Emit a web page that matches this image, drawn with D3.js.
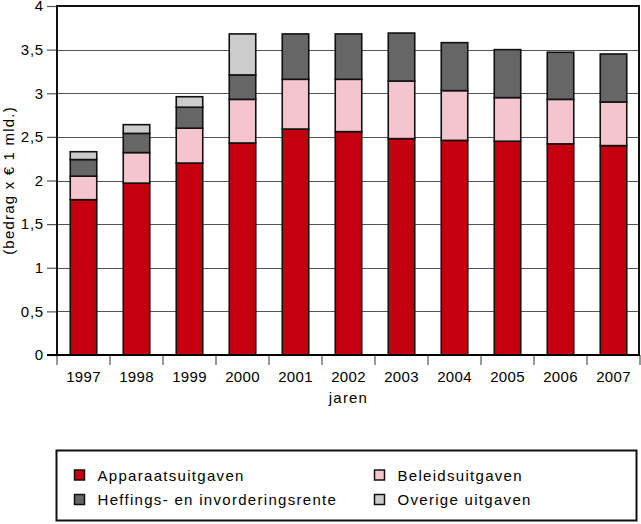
<!DOCTYPE html>
<html><head><meta charset="utf-8">
<script src="https://cdn.jsdelivr.net/npm/d3@7"></script>
<style>body{margin:0;background:#fff}svg{display:block}text{font-family:"Liberation Sans",Arial,sans-serif;fill:#000}</style>
</head><body><svg id="c" width="641" height="524"></svg>
<script>
const years = ["1997","1998","1999","2000","2001","2002","2003","2004","2005","2006","2007"];
const apparaat = [1.78,1.97,2.20,2.43,2.59,2.56,2.48,2.46,2.45,2.42,2.40];
const beleid   = [0.27,0.35,0.40,0.50,0.57,0.60,0.66,0.57,0.50,0.51,0.50];
const heffing  = [0.19,0.22,0.24,0.28,0.52,0.52,0.55,0.55,0.55,0.54,0.55];
const overige  = [0.09,0.10,0.12,0.47,0,0,0,0,0,0,0];
const seriesNames = ["Apparaatsuitgaven","Beleidsuitgaven","Heffings- en invorderingsrente","Overige uitgaven"];
const seriesColors = ["#c4000e","#f4c5cf","#666666","#cccccc"];
const yTicks = [0,0.5,1,1.5,2,2.5,3,3.5,4];

const keys = ["a","b","h","o"];
const table = years.map((y,i)=>({year:y,a:apparaat[i],b:beleid[i],h:heffing[i],o:overige[i]}));
const svg = d3.select("#c");
const L=57,R=640,T=6,B=355;
const x = d3.scaleBand().domain(years).range([L,R]).paddingInner(0.5).paddingOuter(0.25);
const y = d3.scaleLinear().domain([0,4]).range([B,T]);
const color = d3.scaleOrdinal().domain(keys).range(seriesColors);
const fmt = d3.formatLocale({decimal:",",thousands:".",grouping:[3],currency:["€",""]}).format(",~g");

// gridlines
svg.append("g").selectAll("line").data(yTicks.filter(d=>d>0&&d<4)).join("line")
  .attr("x1",L).attr("x2",R).attr("y1",d=>Math.round(y(d))+0.5).attr("y2",d=>Math.round(y(d))+0.5)
  .attr("stroke","#555").attr("stroke-width",1.2);

// y axis
const ya = svg.append("g").attr("transform",`translate(${L},0)`)
  .call(d3.axisLeft(y).tickValues(yTicks).tickFormat(fmt).tickSize(10).tickPadding(3));
ya.select(".domain").remove();
ya.selectAll(".tick line").attr("stroke","#555").attr("stroke-width",1.2);
ya.selectAll(".tick text").style("font-size","15px").style("letter-spacing","0.8px").attr("font-family",null);

// x axis labels
const xa = svg.append("g").attr("transform",`translate(0,${B})`)
  .call(d3.axisBottom(x).tickSize(0).tickPadding(16));
xa.select(".domain").remove();
xa.selectAll(".tick text").style("font-size","15px").style("letter-spacing","0.3px").attr("font-family",null);
// x tick marks at band boundaries
const step = x.step();
svg.append("g").selectAll("line").data(years.concat(["end"])).join("line")
  .attr("x1",(d,i)=>L+i*step).attr("x2",(d,i)=>L+i*step)
  .attr("y1",B).attr("y2",B+10).attr("stroke","#555").attr("stroke-width",1.2);

// bars
const stacked = d3.stack().keys(keys)(table);
svg.append("g").selectAll("g").data(stacked).join("g").attr("fill",d=>color(d.key))
  .selectAll("rect").data(d=>d.filter(p=>p[1]-p[0]>0)).join("rect")
  .attr("x",d=>x(d.data.year)).attr("width",x.bandwidth())
  .attr("y",d=>y(d[1])).attr("height",d=>y(d[0])-y(d[1]))
  .attr("stroke","#111").attr("stroke-width",1.6);

// frame
svg.append("path").attr("d",`M${L},${B}V${T}H${R-1}V${B}`).attr("fill","none").attr("stroke","#111").attr("stroke-width",2);
svg.append("line").attr("x1",L-10).attr("x2",R).attr("y1",B).attr("y2",B).attr("stroke","#000").attr("stroke-width",2.2);

// axis titles
svg.append("text").attr("transform",`translate(8,${(T+B)/2}) rotate(-90)`).attr("text-anchor","middle")
  .attr("dominant-baseline","central").style("font-size","15px").style("letter-spacing","1.2px").text("(bedrag x € 1 mld.)");
svg.append("text").attr("x",(L+R)/2).attr("y",403).attr("text-anchor","middle").style("font-size","15px").style("letter-spacing","1.2px").text("jaren");

// legend
svg.append("rect").attr("x",56.5).attr("y",450.5).attr("width",580).attr("height",70).attr("fill","#fff").attr("stroke","#111").attr("stroke-width",2);
const lg = svg.append("g").selectAll("g").data(seriesNames).join("g")
  .attr("transform",(d,i)=>{const col=(i===0||i===2)?0:1;const row=i<2?0:1;return `translate(${col?374.5:74.5},${row?499.5:475})`;});
lg.append("rect").attr("x",0).attr("y",-5).attr("width",10).attr("height",10)
  .attr("fill",(d,i)=>seriesColors[i]).attr("stroke","#111").attr("stroke-width",1.5);
lg.append("text").attr("x",23).attr("y",0).attr("dominant-baseline","central")
  .style("font-size","15px").style("letter-spacing","1.3px").text(d=>d);
</script></body></html>
